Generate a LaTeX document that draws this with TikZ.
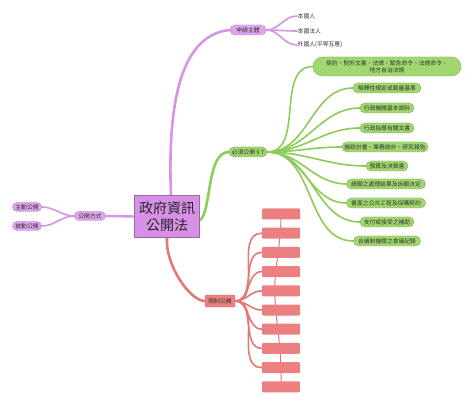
\documentclass[tikz,border=0pt]{standalone}
\usepackage{fontspec}
\newfontfamily\cjk{Noto Sans CJK TC}
\usetikzlibrary{shapes.misc,backgrounds}
\definecolor{pcenter}{RGB}{214,145,230}
\definecolor{ppill}{RGB}{222,165,238}
\definecolor{pline}{RGB}{214,150,230}
\definecolor{gline}{RGB}{140,205,90}
\definecolor{gpill}{RGB}{160,215,110}
\definecolor{rline}{RGB}{228,120,118}
\definecolor{rbox}{RGB}{236,128,128}
\tikzset{
  txt/.style={font=\cjk\fontsize{5.8}{6.8}\selectfont, text=black!80},
  ppillst/.style={txt, rounded rectangle, fill=ppill, draw=pline!80!black, line width=0.3pt, inner xsep=3pt, inner ysep=0pt, minimum height=10pt},
  gpillst/.style={txt, rounded rectangle, fill=gpill, draw=gline!80!black, line width=0.3pt, inner xsep=3pt, inner ysep=0pt, minimum height=10pt},
  rboxst/.style={fill=rbox, rounded corners=1pt, minimum width=38pt, minimum height=11pt, inner sep=0pt},
  leaf/.style={txt, anchor=west, inner sep=0.5pt},
  pbr/.style={pline, line width=2pt, line cap=round},
  gbr/.style={gline, line width=2pt, line cap=round},
  rbr/.style={rline, line width=2pt, line cap=round},
}
\begin{document}
\begin{tikzpicture}[x=1pt,y=-1pt]
\useasboundingbox (0,0) rectangle (474,406);
% center
\node[fill=pcenter, draw=pline!70!black, line width=0.3pt, minimum width=65pt, minimum height=42pt, inner sep=0pt, align=center, font=\cjk\fontsize{14}{17}\selectfont, text=black!85] (c) at (167,216.5) {政府資訊\\公開法};
% level 2
\node[ppillst, minimum width=42pt] (sq) at (248,30) {申請主體};
\node[gpillst, minimum width=44pt] (bx) at (248,152) {必須公開§7};
\node[ppillst, minimum width=29pt, minimum height=9pt] (fs) at (90,216) {公開方式};
\node[fill=rbox, draw=rline!80!black, line width=0.3pt, rounded corners=1pt, txt, minimum width=30pt, minimum height=12pt, inner sep=0pt] (xz) at (220,301) {限制公開};
% leaves of 申請主體
\node[leaf] (s1) at (297,16) {本國人};
\node[leaf] (s2) at (297,31) {本國法人};
\node[leaf] (s3) at (297,45) {外國人(平等互惠)};
% 公開方式 children
\node[ppillst, minimum width=35pt, minimum height=9pt] (f1) at (27,207) {主動公開};
\node[ppillst, minimum width=35pt, minimum height=9pt] (f2) at (27,226) {被動公開};
% green children
\node[gpillst, minimum width=154pt, minimum height=19pt, align=center] (g1) at (387,66.5) {條約、對外文書、法律、緊急命令、法規命令、\\地方自治法規};
\node[gpillst, minimum width=74pt] (g2) at (387,88) {解釋性規定或裁量基準};
\node[gpillst, minimum width=60pt] (g3) at (387,108) {行政機關基本資料};
\node[gpillst, minimum width=60pt] (g4) at (387,128) {行政指導有關文書};
\node[gpillst, minimum width=92pt] (g5) at (385,147) {施政計畫、業務統計、研究報告};
\node[gpillst, minimum width=48pt] (g6) at (387,166) {預算及決算書};
\node[gpillst, minimum width=85pt] (g7) at (386,184) {請願之處理結果及訴願決定};
\node[gpillst, minimum width=85pt] (g8) at (386,203) {書面之公共工程及採購契約};
\node[gpillst, minimum width=60pt] (g9) at (387,222) {支付或接受之補助};
\node[gpillst, minimum width=73pt] (g10) at (387,241) {合議制機關之會議紀錄};
% red boxes
\foreach \i in {1,...,10}{
  \node[rboxst] (r\i) at (281,{214+19.2*(\i-1)}) {};
}
\begin{scope}[on background layer]
\fill[white] (0,0) rectangle (474,406);
% main branches
\draw[pbr, line width=2.6pt] ([xshift=4pt]c.north) .. controls (168,120) and (175,35) .. (sq.west);
\draw[gbr, line width=2.6pt] ([yshift=-4pt]c.east) .. controls (212,212) and (206,152) .. (bx.west);
\draw[pbr, line width=2.4pt] (c.west) -- (fs.east);
\draw[rbr, line width=2.6pt] ([xshift=0pt]c.south) .. controls (165,265) and (190,301) .. (xz.west);
% 申請主體 leaves
\foreach \n in {s1,s2,s3}{
  \draw[pbr, line width=1.6pt] (sq.east) to[out=0,in=180] (\n.west);
}
% 公開方式
\foreach \n in {f1,f2}{
  \draw[pbr, line width=1.6pt] (fs.west) to[out=180,in=0] (\n.east);
}
% green
\foreach \n in {g1,g2,g3,g4,g5,g6,g7,g8,g9,g10}{
  \draw[gbr, line width=1.6pt] (bx.east) to[out=0,in=180] (\n.west);
}
% red fan
\foreach \i in {2,...,9}{
  \draw[rbr, line width=1.6pt] (xz.east) to[out=0,in=180] (r\i.west);
}
% thin spine behind red boxes
\draw[rline, line width=1pt] (r1.center) .. controls (281,250) and (273,270) .. (275,300) .. controls (277,330) and (282,350) .. (r10.center);
\end{scope}
\end{tikzpicture}
\end{document}
